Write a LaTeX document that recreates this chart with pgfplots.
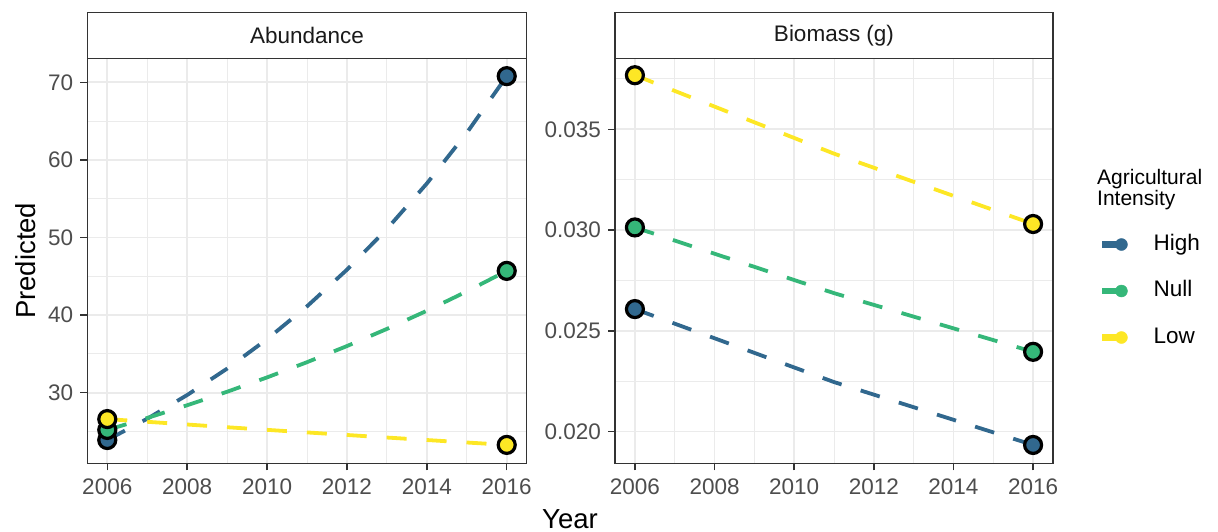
\documentclass[border=0pt]{standalone}
\usepackage{pgfplots}
\pgfplotsset{compat=1.18}
\usepackage{pgfplotstable}
\usepackage{fontspec}
\setmainfont{Liberation Sans}

\definecolor{cHigh}{HTML}{31688E}
\definecolor{cNull}{HTML}{35B779}
\definecolor{cLow}{HTML}{FDE725}
\definecolor{gridc}{HTML}{EBEBEB}
\definecolor{framec}{HTML}{333333}
\definecolor{tickc}{HTML}{4D4D4D}
\definecolor{stript}{HTML}{1A1A1A}

\newcommand{\smallfont}{\fontsize{22.5}{27}\selectfont}
\newcommand{\titlefont}{\fontsize{27.5}{33}\selectfont}

\pgfplotstableread{
year High Null Low
2006 23.90 25.20 26.60
2007 26.64 26.74 26.25
2008 29.70 28.38 25.90
2009 33.10 30.12 25.55
2010 36.90 31.97 25.21
2011 41.13 33.93 24.88
2012 45.85 36.01 24.55
2013 51.10 38.22 24.22
2014 56.96 40.56 23.90
2015 63.49 43.05 23.58
2016 70.80 45.70 23.27
}\abund

\pgfplotstableread{
year High Null Low
2006 0.02608 0.03013 0.03768
2011 0.02246 0.02687 0.03379
2016 0.01934 0.02396 0.03030
}\biom

\pgfplotsset{
  panel/.style={
    scale only axis, width=439.4pt, height=405pt,
    axis line style={framec, line width=1.4pt},
    xmin=2005.5, xmax=2016.5,
    xtick={2006,2008,...,2016}, minor xtick={2007,2009,...,2015},
    grid=both,
    major grid style={gridc, line width=1.7pt},
    minor grid style={gridc, line width=0.85pt},
    tick align=outside, tickpos=left,
    major tick length=7pt, minor tick length=0pt,
    every tick/.style={framec, line width=1.4pt},
    /pgf/number format/assume math mode=true,
    /pgf/number format/1000 sep={},
    ticklabel style={font=\smallfont, color=tickc, inner sep=0pt},
    xticklabel style={anchor=north, yshift=-8pt},
    yticklabel style={anchor=east, xshift=-7pt},
  },
  dline/.style={line width=3.8pt, dash pattern=on 20pt off 20pt, no marks, forget plot},
  dmark/.style={only marks, mark=*, mark size=8.5pt, mark options={solid, draw=black, line width=3.2pt}, forget plot},
  legimg/.style={legend image code/.code={\draw[line width=6.5pt] (0pt,0pt) -- (19pt,0pt); \fill (19pt,0pt) circle (6pt);}},
}

\begin{document}
\begin{tikzpicture}
\path[use as bounding box] (0,0) rectangle (1218pt,532pt);

\begin{axis}[panel, name=L, at={(87.3pt,68.7pt)}, anchor=south west,
  ymin=20.9, ymax=73.1,
  ytick={30,40,50,60,70}, minor ytick={25,35,45,55,65}]
\addplot[dline, cHigh] table[x=year, y=High] {\abund};
\addplot[dline, cNull] table[x=year, y=Null] {\abund};
\addplot[dline, cLow] table[x=year, y=Low] {\abund};
\addplot[dmark, mark indices={1,11}, fill=cHigh] table[x=year, y=High] {\abund};
\addplot[dmark, mark indices={1,11}, fill=cNull] table[x=year, y=Null] {\abund};
\addplot[dmark, mark indices={1,11}, fill=cLow] table[x=year, y=Low] {\abund};
\end{axis}

\begin{axis}[panel, name=R, at={(615pt,68.7pt)}, anchor=south west, width=438pt,
  ymin=0.01843, ymax=0.03852,
  ytick={0.020,0.025,0.030,0.035}, minor ytick={0.0225,0.0275,0.0325,0.0375},
  scaled y ticks=false,
  yticklabel style={/pgf/number format/.cd, fixed, fixed zerofill, precision=3},
  legend style={at={(axis description cs:1.105,0.4254)}, anchor=west,
    draw=none, fill=none, inner sep=0pt, row sep=25.5pt, column sep=26pt,
    nodes={inner sep=0pt, font=\smallfont, text=black, text height=16pt, text depth=5pt}},
  legend cell align=left]
\addplot[dline, cHigh] table[x=year, y=High] {\biom};
\addplot[dline, cNull] table[x=year, y=Null] {\biom};
\addplot[dline, cLow] table[x=year, y=Low] {\biom};
\addplot[dmark, mark indices={1,3}, fill=cHigh] table[x=year, y=High] {\biom};
\addplot[dmark, mark indices={1,3}, fill=cNull] table[x=year, y=Null] {\biom};
\addplot[dmark, mark indices={1,3}, fill=cLow] table[x=year, y=Low] {\biom};
\addlegendimage{legimg, color=cHigh}
\addlegendentry{High}
\addlegendimage{legimg, color=cNull}
\addlegendentry{Null}
\addlegendimage{legimg, color=cLow}
\addlegendentry{Low}
\end{axis}

% facet strips
\draw[framec, line width=1.4pt, fill=white] (L.north west) rectangle ([yshift=45.6pt]L.north east);
\node[font=\smallfont, text=stript] at ([yshift=22.8pt]L.north) {Abundance};
\draw[framec, line width=1.4pt, fill=white] (R.north west) rectangle ([yshift=45.6pt]R.north east);
\node[font=\smallfont, text=stript] at ([yshift=22.8pt]R.north) {Biomass (g)};

% axis titles
\node[font=\titlefont, rotate=90] at (25.8pt,271.2pt) {Predicted};
\node[font=\titlefont, anchor=base, inner sep=0pt] at (570pt,3.5pt) {Year};

% legend title
\node[font=\fontsize{21}{25}\selectfont, anchor=base west, inner sep=0pt] at (1097pt,347.7pt) {Agricultural};
\node[font=\fontsize{21}{25}\selectfont, anchor=base west, inner sep=0pt] at (1097pt,326.3pt) {Intensity};
\end{tikzpicture}
\end{document}
